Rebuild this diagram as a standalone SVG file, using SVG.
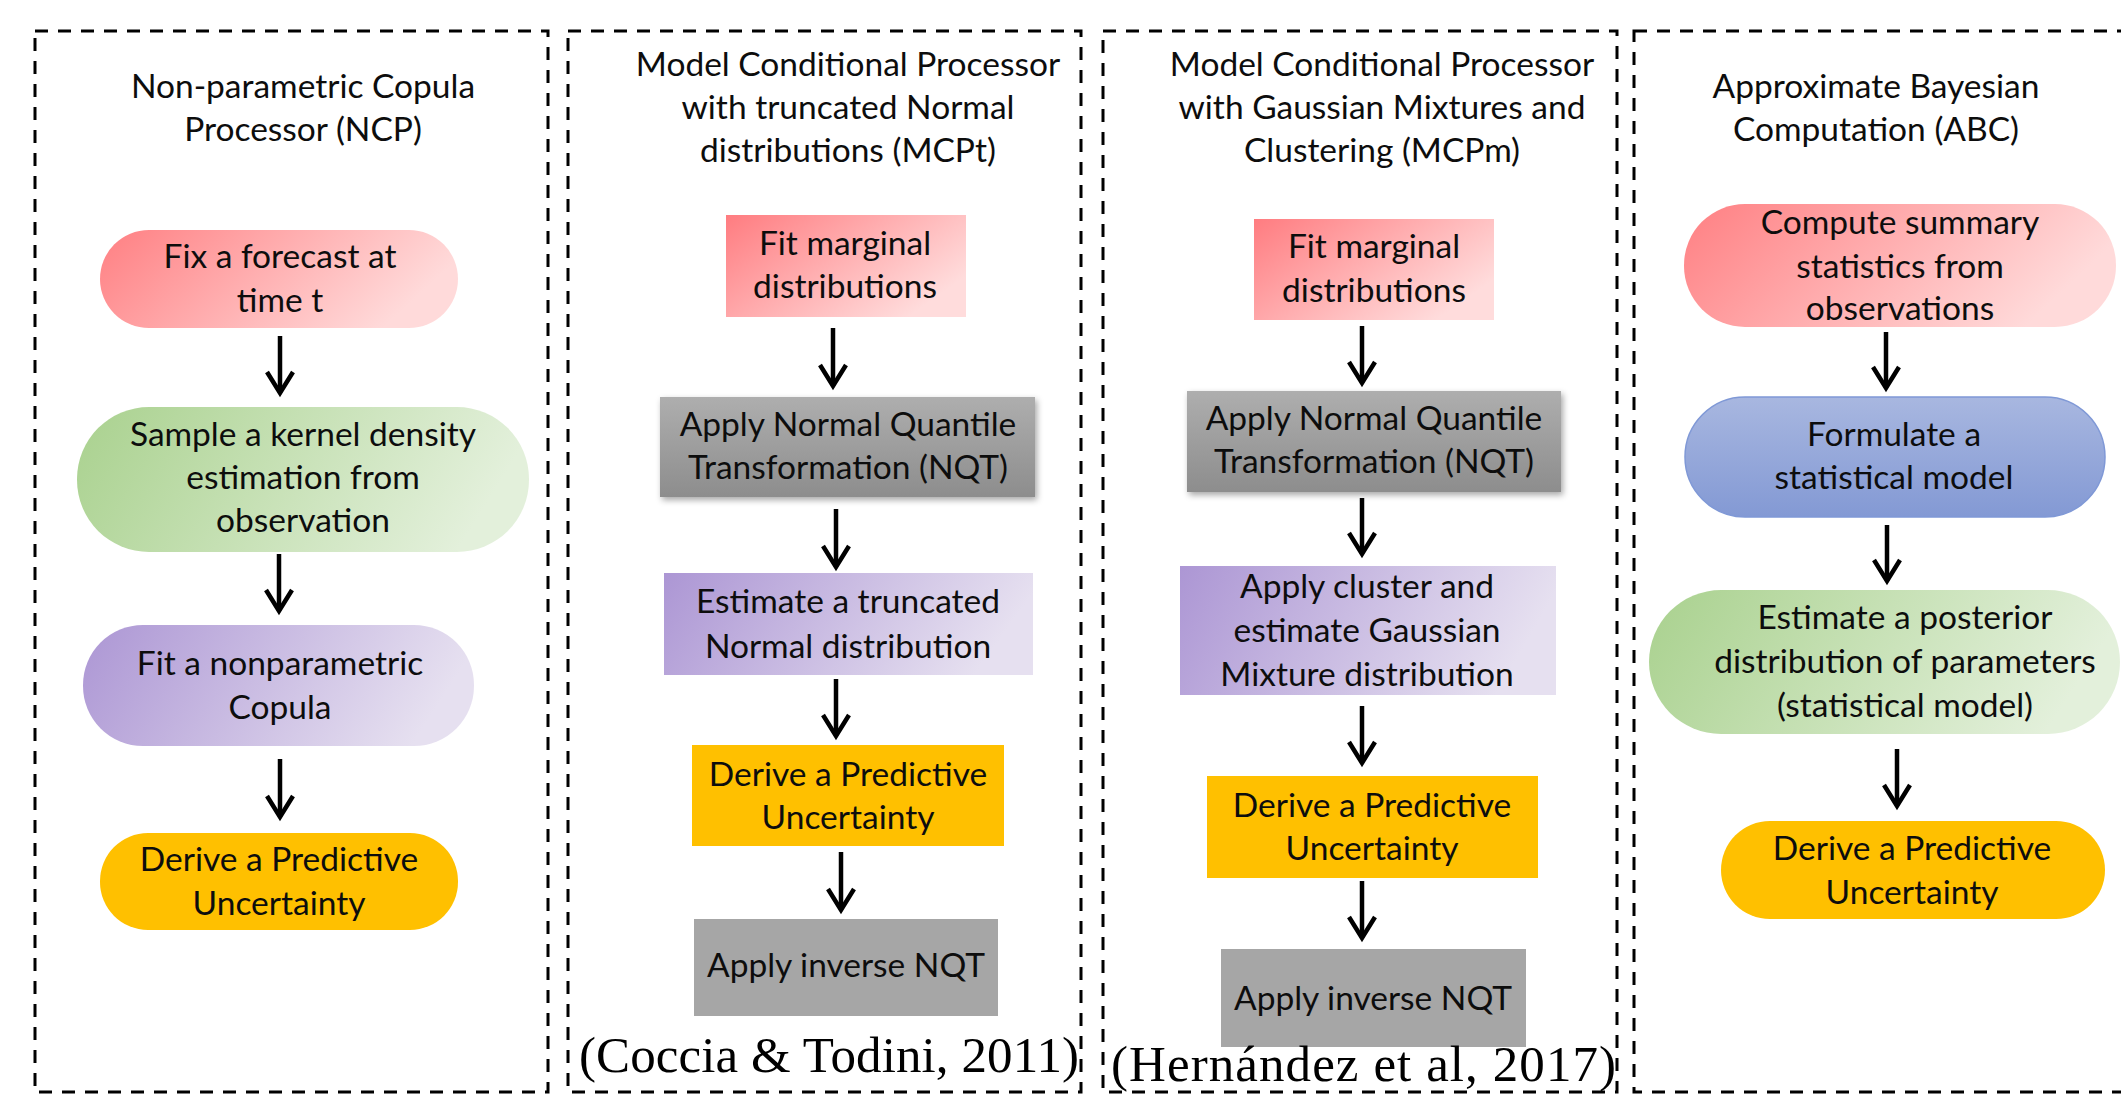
<svg xmlns="http://www.w3.org/2000/svg" width="2121" height="1095" viewBox="0 0 2121 1095">
<style>
.panel{fill:none;stroke:#000;stroke-width:3;stroke-dasharray:13 10}
.t{font-family:Lato,"Liberation Sans",sans-serif;font-size:33.5px;fill:#0d0d0d;text-anchor:middle}
.cite{font-family:"Liberation Serif","DejaVu Serif",serif;font-size:51px;fill:#000}
.arr{stroke:#000;stroke-width:4.5;fill:none;marker-end:url(#chev)}
.red{fill:url(#gRed)}
.redr{fill:url(#gRedR)}
.green{fill:url(#gGreen)}
.purple{fill:url(#gPurple)}
.orange{fill:#FFC000}
.gray{fill:url(#gGray);filter:url(#shadow)}
.flatgray{fill:#A6A6A6}
.blue{fill:url(#gBlue);stroke:#7F98D6;stroke-width:1.5}
</style>
<defs>
<linearGradient id="gRed" x1="0" y1="0" x2="1" y2="0.3"><stop offset="0" stop-color="#FF7F82"/><stop offset="1" stop-color="#FFDADA"/></linearGradient>
<linearGradient id="gRedR" x1="0" y1="0" x2="1" y2="0.6"><stop offset="0" stop-color="#FF7C80"/><stop offset="1" stop-color="#FFDCDC"/></linearGradient>
<linearGradient id="gGreen" x1="0" y1="0" x2="1" y2="0.2"><stop offset="0" stop-color="#A9D18E"/><stop offset="1" stop-color="#E3F0DB"/></linearGradient>
<linearGradient id="gPurple" x1="0" y1="0" x2="1" y2="0.2"><stop offset="0" stop-color="#AC96D4"/><stop offset="1" stop-color="#E6E0F0"/></linearGradient>
<linearGradient id="gGray" x1="0" y1="0" x2="0" y2="1"><stop offset="0" stop-color="#AEAEAE"/><stop offset="1" stop-color="#8D8D8D"/></linearGradient>
<linearGradient id="gBlue" x1="0" y1="0" x2="0" y2="1"><stop offset="0" stop-color="#A8B7E0"/><stop offset="1" stop-color="#8399D4"/></linearGradient>
<filter id="shadow" x="-5%" y="-10%" width="115%" height="130%"><feDropShadow dx="2" dy="3" stdDeviation="3" flood-color="#000" flood-opacity="0.35"/></filter>
<marker id="chev" markerUnits="userSpaceOnUse" markerWidth="30" markerHeight="30" viewBox="-25 -15 30 30" refX="0" refY="0" orient="auto" overflow="visible"><path d="M-21,-13 L0,0 L-21,13" fill="none" stroke="#000" stroke-width="4.5" stroke-linejoin="miter"/></marker>
</defs>
<rect width="2121" height="1095" fill="#fff"/>

<g id="panels">
<rect id="panel-ncp" class="panel" x="35" y="31" width="513" height="1061"/>
<rect id="panel-mcpt" class="panel" x="568" y="31" width="513" height="1061"/>
<rect id="panel-mcpm" class="panel" x="1103" y="31" width="514" height="1061"/>
<rect id="panel-abc" class="panel" x="1634" y="31" width="520" height="1061"/>
</g>

<g id="titles">
<text class="t" x="303" y="98">Non-parametric Copula</text>
<text class="t" x="303" y="141">Processor (NCP)</text>
<text class="t" x="848" y="76">Model Conditional Processor</text>
<text class="t" x="848" y="119">with truncated Normal</text>
<text class="t" x="848" y="162">distributions (MCPt)</text>
<text class="t" x="1382" y="76">Model Conditional Processor</text>
<text class="t" x="1382" y="119">with Gaussian Mixtures and</text>
<text class="t" x="1382" y="162">Clustering (MCPm)</text>
<text class="t" x="1876" y="98">Approximate Bayesian</text>
<text class="t" x="1876" y="141">Computation (ABC)</text>
</g>

<g id="connectors">
<line class="arr" x1="280" y1="336" x2="280" y2="393"/>
<line class="arr" x1="279" y1="554" x2="279" y2="611"/>
<line class="arr" x1="280" y1="759" x2="280" y2="817"/>
<line class="arr" x1="833" y1="328" x2="833" y2="386"/>
<line class="arr" x1="836" y1="509" x2="836" y2="567"/>
<line class="arr" x1="836" y1="679" x2="836" y2="736"/>
<line class="arr" x1="841" y1="852" x2="841" y2="910"/>
<line class="arr" x1="1362" y1="326" x2="1362" y2="383"/>
<line class="arr" x1="1362" y1="498" x2="1362" y2="554"/>
<line class="arr" x1="1362" y1="706" x2="1362" y2="763"/>
<line class="arr" x1="1362" y1="881" x2="1362" y2="938"/>
<line class="arr" x1="1886" y1="332" x2="1886" y2="388"/>
<line class="arr" x1="1887" y1="525" x2="1887" y2="581"/>
<line class="arr" x1="1897" y1="749" x2="1897" y2="806"/>
</g>

<g id="ncp-fix">
<rect class="red" x="100" y="230" width="358" height="98" rx="49"/>
<text class="t" x="280" y="268">Fix a forecast at</text>
<text class="t" x="280" y="312">time t</text>
</g>
<g id="ncp-sample">
<rect class="green" x="77" y="407" width="452" height="145" rx="72"/>
<text class="t" x="303" y="446">Sample a kernel density</text>
<text class="t" x="303" y="489">estimation from</text>
<text class="t" x="303" y="532">observation</text>
</g>
<g id="ncp-copula">
<rect class="purple" x="83" y="625" width="391" height="121" rx="60"/>
<text class="t" x="280" y="675">Fit a nonparametric</text>
<text class="t" x="280" y="719">Copula</text>
</g>
<g id="ncp-derive">
<rect class="orange" x="100" y="833" width="358" height="97" rx="48"/>
<text class="t" x="279" y="871">Derive a Predictive</text>
<text class="t" x="279" y="915">Uncertainty</text>
</g>

<g id="mcpt-fit">
<rect class="redr" x="726" y="215" width="240" height="102"/>
<text class="t" x="845" y="255">Fit marginal</text>
<text class="t" x="845" y="298">distributions</text>
</g>
<g id="mcpt-nqt">
<rect class="gray" x="660" y="397" width="375" height="100"/>
<text class="t" x="848" y="436">Apply Normal Quantile</text>
<text class="t" x="848" y="479">Transformation (NQT)</text>
</g>
<g id="mcpt-trunc">
<rect class="purple" x="664" y="573" width="369" height="102"/>
<text class="t" x="848" y="613">Estimate a truncated</text>
<text class="t" x="848" y="658">Normal distribution</text>
</g>
<g id="mcpt-derive">
<rect class="orange" x="692" y="745" width="312" height="101"/>
<text class="t" x="848" y="786">Derive a Predictive</text>
<text class="t" x="848" y="829">Uncertainty</text>
</g>
<g id="mcpt-inverse">
<rect class="flatgray" x="694" y="919" width="304" height="97"/>
<text class="t" x="846" y="977">Apply inverse NQT</text>
</g>
<text id="cite-coccia" class="cite" x="579" y="1072" textLength="500" lengthAdjust="spacing">(Coccia &amp; Todini, 2011)</text>

<g id="mcpm-fit">
<rect class="redr" x="1254" y="219" width="240" height="101"/>
<text class="t" x="1374" y="258">Fit marginal</text>
<text class="t" x="1374" y="302">distributions</text>
</g>
<g id="mcpm-nqt">
<rect class="gray" x="1187" y="391" width="374" height="101"/>
<text class="t" x="1374" y="430">Apply Normal Quantile</text>
<text class="t" x="1374" y="473">Transformation (NQT)</text>
</g>
<g id="mcpm-cluster">
<rect class="purple" x="1180" y="566" width="376" height="129"/>
<text class="t" x="1367" y="598">Apply cluster and</text>
<text class="t" x="1367" y="642">estimate Gaussian</text>
<text class="t" x="1367" y="686">Mixture distribution</text>
</g>
<g id="mcpm-derive">
<rect class="orange" x="1207" y="776" width="331" height="102"/>
<text class="t" x="1372" y="817">Derive a Predictive</text>
<text class="t" x="1372" y="860">Uncertainty</text>
</g>
<g id="mcpm-inverse">
<rect class="flatgray" x="1221" y="949" width="305" height="98"/>
<text class="t" x="1373" y="1010">Apply inverse NQT</text>
</g>
<text id="cite-hernandez" class="cite" x="1111" y="1081" textLength="505" lengthAdjust="spacing">(Hernández et al, 2017)</text>

<g id="abc-compute">
<rect class="red" x="1684" y="204" width="432" height="123" rx="61"/>
<text class="t" x="1900" y="234">Compute summary</text>
<text class="t" x="1900" y="278">statistics from</text>
<text class="t" x="1900" y="320">observations</text>
</g>
<g id="abc-formulate">
<rect class="blue" x="1685" y="397" width="420" height="120" rx="60"/>
<text class="t" x="1894" y="446">Formulate a</text>
<text class="t" x="1894" y="489">statistical model</text>
</g>
<g id="abc-posterior">
<rect class="green" x="1649" y="590" width="471" height="144" rx="72"/>
<text class="t" x="1905" y="629">Estimate a posterior</text>
<text class="t" x="1905" y="673">distribution of parameters</text>
<text class="t" x="1905" y="717">(statistical model)</text>
</g>
<g id="abc-derive">
<rect class="orange" x="1721" y="821" width="384" height="98" rx="49"/>
<text class="t" x="1912" y="860">Derive a Predictive</text>
<text class="t" x="1912" y="904">Uncertainty</text>
</g>
</svg>
